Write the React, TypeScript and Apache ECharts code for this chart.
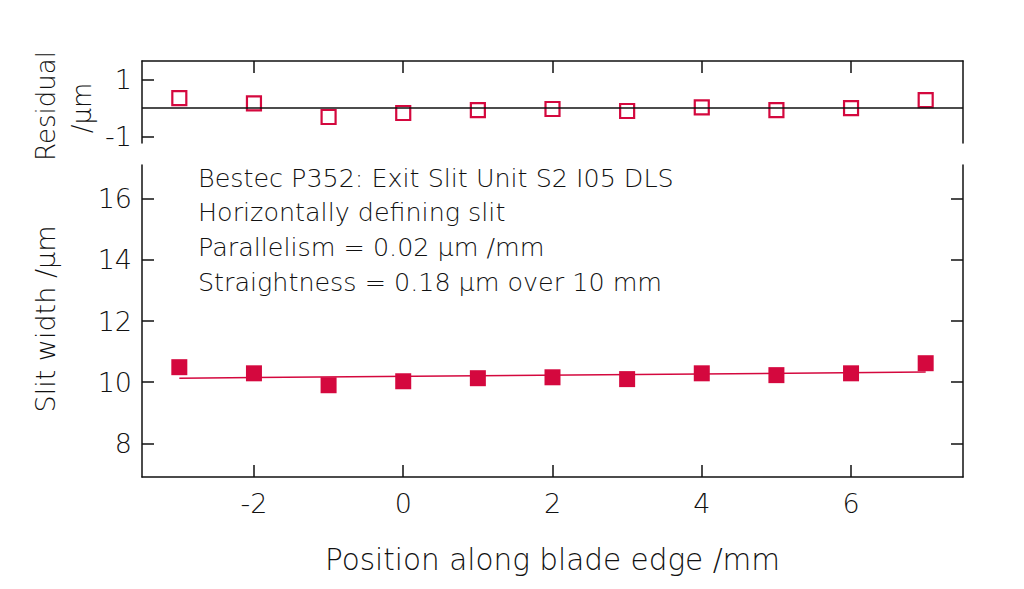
import React, { useEffect, useRef } from "react";
import * as echarts from "echarts";

const positions = [-3, -2, -1, 0, 1, 2, 3, 4, 5, 6, 7];
const slitWidths = [10.49, 10.29, 9.9, 10.03, 10.13, 10.16, 10.1, 10.29, 10.23, 10.29, 10.62];
const residuals = [0.35, 0.17, -0.31, -0.17, -0.07, -0.03, -0.1, 0.03, -0.07, 0.0, 0.28];
const fitX = [-3, 7];
const fitY = [10.13, 10.33];
const xTicks = [-2, 0, 2, 4, 6];
const slitTicks = [8, 10, 12, 14, 16];
const residualTicks = [-1, 1];
const annotation = [
  "Bestec P352: Exit Slit Unit S2 I05 DLS",
  "Horizontally defining slit",
  "Parallelism = 0.02 \u03bcm /mm",
  "Straightness = 0.18 \u03bcm over 10 mm",
];

const RED = "#d4083e";
const INK = "#111111";
const FONT = "'DejaVu Sans'";
const FW = 200;

export default function App() {
  const ref = useRef<HTMLDivElement>(null);
  useEffect(() => {
    if (!ref.current) return;
    const chart = echarts.init(ref.current, undefined, { renderer: "svg" });
    const axisLine = { show: true, onZero: false, lineStyle: { color: INK, width: 1.5 } };
    const tick = (vals: number[]) => ({
      show: true,
      inside: true,
      length: 12,
      customValues: vals,
      lineStyle: { color: INK, width: 1.5 },
    });
    const label = (vals: number[], margin: number) => ({
      show: true,
      customValues: vals,
      color: INK,
      fontFamily: FONT,
      fontWeight: FW,
      fontSize: 27,
      margin,
    });
    chart.setOption({
      animation: false,
      backgroundColor: "#ffffff",
      textStyle: { fontFamily: FONT },
      grid: [
        { left: 142, right: 61, top: 61, height: 82 },
        { left: 142, right: 61, top: 165, height: 312 },
      ],
      xAxis: [
        {
          gridIndex: 0,
          type: "value",
          position: "top",
          min: -3.5,
          max: 7.5,
          axisLine,
          axisTick: tick(xTicks),
          axisLabel: { show: false },
          splitLine: { show: false },
        },
        {
          gridIndex: 1,
          type: "value",
          position: "bottom",
          min: -3.5,
          max: 7.5,
          axisLine,
          axisTick: tick(xTicks),
          axisLabel: label(xTicks, 13),
          splitLine: { show: false },
          name: "Position along blade edge /mm",
          nameLocation: "middle",
          nameGap: 68,
          nameTextStyle: { color: INK, fontFamily: FONT, fontWeight: FW, fontSize: 29.5 },
        },
      ],
      yAxis: [
        {
          gridIndex: 0,
          type: "value",
          position: "left",
          min: -1.22,
          max: 1.65,
          axisLine,
          axisTick: tick(residualTicks),
          axisLabel: label(residualTicks, 10),
          splitLine: { show: false },
        },
        {
          gridIndex: 0,
          type: "value",
          position: "right",
          min: -1.22,
          max: 1.65,
          axisLine,
          axisTick: { show: false },
          axisLabel: { show: false },
          splitLine: { show: false },
        },
        {
          gridIndex: 1,
          type: "value",
          position: "left",
          min: 6.9,
          max: 17.1,
          axisLine,
          axisTick: tick(slitTicks),
          axisLabel: label(slitTicks, 10),
          splitLine: { show: false },
        },
        {
          gridIndex: 1,
          type: "value",
          position: "right",
          min: 6.9,
          max: 17.1,
          axisLine,
          axisTick: tick(slitTicks),
          axisLabel: { show: false },
          splitLine: { show: false },
        },
      ],
      graphic: [
        {
          type: "text",
          x: 46,
          y: 106,
          rotation: Math.PI / 2,
          style: {
            text: "Residual",
            fill: INK,
            fontFamily: FONT,
            fontWeight: FW,
            fontSize: 26,
            align: "center",
            verticalAlign: "middle",
          },
        },
        {
          type: "text",
          x: 82,
          y: 108,
          rotation: Math.PI / 2,
          style: {
            text: "/\u03bcm",
            fill: INK,
            fontFamily: FONT,
            fontWeight: FW,
            fontSize: 26,
            align: "center",
            verticalAlign: "middle",
          },
        },
        {
          type: "text",
          x: 45,
          y: 319,
          rotation: Math.PI / 2,
          style: {
            text: "Slit width /\u03bcm",
            fill: INK,
            fontFamily: FONT,
            fontWeight: FW,
            fontSize: 27,
            align: "center",
            verticalAlign: "middle",
          },
        },
        ...annotation.map((t, i) => ({
          type: "text",
          x: 198,
          y: [178, 212, 247, 282][i],
          style: {
            text: t,
            fill: INK,
            fontFamily: FONT,
            fontWeight: FW,
            fontSize: 25.4,
            align: "left",
            verticalAlign: "middle",
          },
        })),
      ],
      series: [
        {
          type: "scatter",
          xAxisIndex: 0,
          yAxisIndex: 0,
          data: positions.map((x, i) => [x, residuals[i]]),
          symbol: "rect",
          symbolSize: 14,
          itemStyle: { color: "#ffffff", borderColor: RED, borderWidth: 2.2, opacity: 1 },
          markLine: {
            silent: true,
            symbol: "none",
            label: { show: false },
            lineStyle: { color: INK, width: 1.5, type: "solid" },
            data: [{ yAxis: 0 }],
          },
          z: 3,
        },
        {
          type: "line",
          xAxisIndex: 1,
          yAxisIndex: 2,
          data: fitX.map((x, i) => [x, fitY[i]]),
          symbol: "none",
          lineStyle: { color: RED, width: 1.5 },
          z: 2,
        },
        {
          type: "scatter",
          xAxisIndex: 1,
          yAxisIndex: 2,
          data: positions.map((x, i) => [x, slitWidths[i]]),
          symbol: "rect",
          symbolSize: 16,
          itemStyle: { color: RED, opacity: 1 },
          z: 3,
        },
      ],
    });
    return () => chart.dispose();
  }, []);
  return (
    <div
      ref={ref}
      style={{ position: "fixed", left: 0, top: 0, width: 1024, height: 589, background: "#fff" }}
    />
  );
}
